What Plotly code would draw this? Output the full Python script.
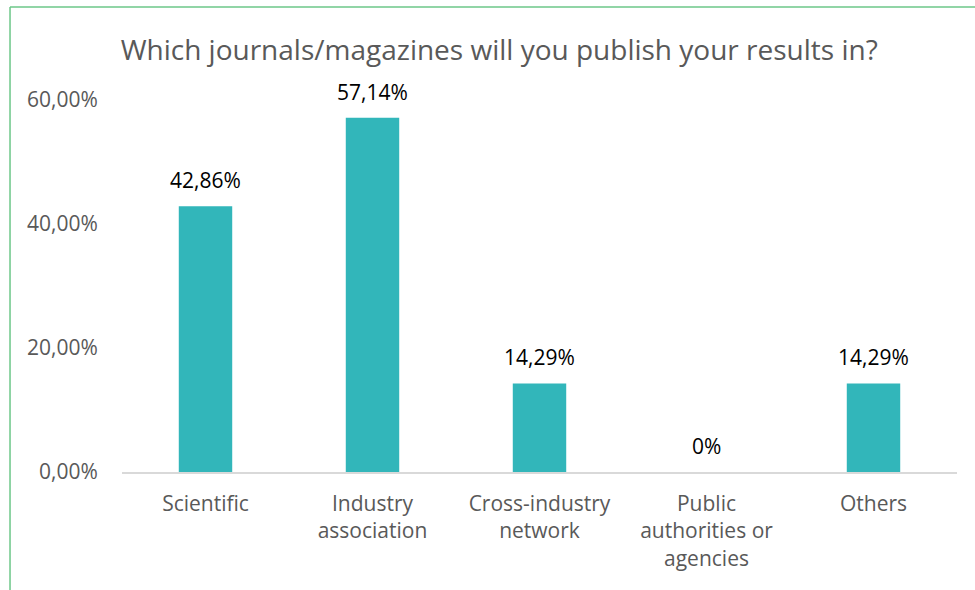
import plotly.graph_objects as go

categories = ["Scientific", "Industry<br>association", "Cross-industry<br>network",
              "Public<br>authorities or<br>agencies", "Others"]
values = [0.4286, 0.5714, 0.1429, 0.0, 0.1429]
labels = ["42,86%", "57,14%", "14,29%", "0%", "14,29%"]
yticks = [0, 0.2, 0.4, 0.6]

FONT = "Open Sans"
GREY = "#595959"

fig = go.Figure()
fig.add_trace(go.Bar(x=categories, y=values, marker_color="#32B6BA",
                     marker_line_width=0, width=0.32, hoverinfo="skip"))

for c, v, t in zip(categories, values, labels):
    fig.add_annotation(x=c, y=v, text=t, showarrow=False, yanchor="bottom",
                       yshift=10, font=dict(family=FONT, size=21, color="#000000"))

# outer chart border (top and left, light green)
fig.add_shape(type="line", xref="paper", yref="paper", x0=-0.1341, x1=1.03,
              y0=1.25, y1=1.25, line=dict(color="#6CC788", width=1.5))
fig.add_shape(type="line", xref="paper", yref="paper", x0=-0.1341, x1=-0.1341,
              y0=1.25, y1=-0.35, line=dict(color="#6CC788", width=1.5))

fig.update_layout(
    width=975, height=590,
    margin=dict(l=122, r=18, t=100, b=118),
    paper_bgcolor="white", plot_bgcolor="white",
    separators=",.",
    showlegend=False,
    title=dict(text="Which journals/magazines will you publish your results in?",
               x=0.512, xanchor="center", y=0.915, yanchor="middle",
               font=dict(family=FONT, size=28, color=GREY)),
    xaxis=dict(showline=True, linecolor="#D9D9D9", linewidth=1.5,
               ticks="outside", ticklen=12, tickcolor="white",
               tickfont=dict(family=FONT, size=21, color=GREY), showgrid=False),
    yaxis=dict(range=[0, 0.6], tickvals=yticks, tickformat=".2%", showgrid=False,
               zeroline=False, showline=False, ticks="outside", ticklen=19,
               tickcolor="white",
               tickfont=dict(family=FONT, size=21, color=GREY)),
)

fig.write_html("out.html")
